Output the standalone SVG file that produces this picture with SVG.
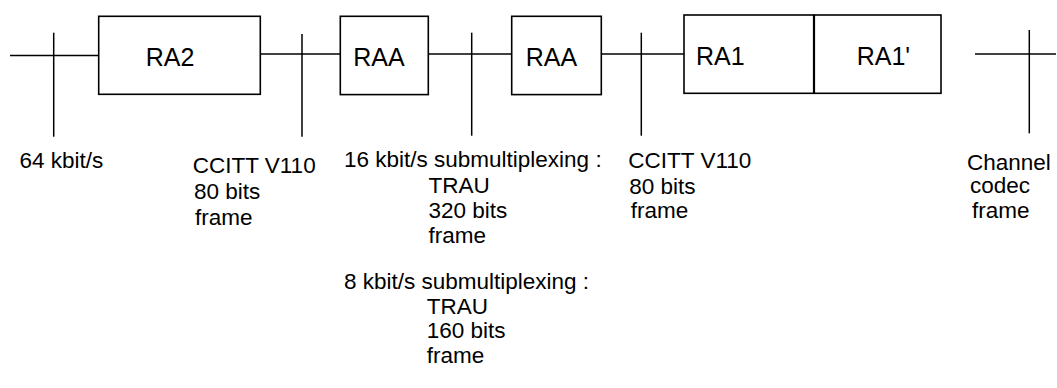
<svg xmlns="http://www.w3.org/2000/svg" width="1057" height="388" viewBox="0 0 1057 388">
<style>
.box{fill:#fff;stroke:#000;stroke-width:1.6}
.ln{stroke:#000;stroke-width:1.5;fill:none}
.bl{font-family:"Liberation Sans",Arial,sans-serif;font-size:25px;fill:#000}
.t{font-family:"Liberation Sans",Arial,sans-serif;font-size:22.5px;fill:#000}
</style>
<rect width="1057" height="388" fill="#fff"/>
<g id="connectors">
<line class="ln" x1="10" y1="55.5" x2="98.7" y2="55.5"/>
<line class="ln" x1="53.7" y1="32.7" x2="53.7" y2="136.7"/>
<line class="ln" x1="260.3" y1="54" x2="340.3" y2="54"/>
<line class="ln" x1="302" y1="34" x2="302" y2="136.7"/>
<line class="ln" x1="428.3" y1="54" x2="511.7" y2="54"/>
<line class="ln" x1="471.7" y1="32.7" x2="471.7" y2="135.7"/>
<line class="ln" x1="601.3" y1="54" x2="684" y2="54"/>
<line class="ln" x1="641.3" y1="32.7" x2="641.3" y2="135.7"/>
<line class="ln" x1="975" y1="54" x2="1056" y2="54"/>
<line class="ln" x1="1029.3" y1="30" x2="1029.3" y2="133.3"/>
</g>
<g id="ra2"><rect class="box" x="98.7" y="16.3" width="161.6" height="78"/><text class="bl" x="145.7" y="65.5">RA2</text></g>
<g id="raa1"><rect class="box" x="340.3" y="16.3" width="88" height="78.3"/><text class="bl" x="353.3" y="65.5">RAA</text></g>
<g id="raa2"><rect class="box" x="511.7" y="16.3" width="89.6" height="78.3"/><text class="bl" x="525.7" y="65.5">RAA</text></g>
<g id="ra1"><rect class="box" x="684" y="15" width="129.7" height="78.3"/><text class="bl" x="696" y="65">RA1</text></g>
<g id="ra1p"><rect class="box" x="814.3" y="15" width="126.7" height="78.3"/><text class="bl" x="856.7" y="65">RA1'</text></g>
<g id="labels">
<text class="t" x="19.5" y="168">64 kbit/s</text>
<text class="t" x="192.7" y="173">CCITT V110</text>
<text class="t" x="194" y="199">80 bits</text>
<text class="t" x="195" y="225">frame</text>
<text class="t" x="344" y="167">16 kbit/s submultiplexing :</text>
<text class="t" x="428.5" y="193">TRAU</text>
<text class="t" x="428.5" y="218">320 bits</text>
<text class="t" x="428.5" y="243">frame</text>
<text class="t" x="344" y="289">8 kbit/s submultiplexing :</text>
<text class="t" x="426.7" y="314">TRAU</text>
<text class="t" x="426.7" y="338">160 bits</text>
<text class="t" x="426.7" y="363">frame</text>
<text class="t" x="628.3" y="168">CCITT V110</text>
<text class="t" x="629.3" y="194">80 bits</text>
<text class="t" x="630.7" y="218">frame</text>
<text class="t" x="967" y="170">Channel</text>
<text class="t" x="970" y="193">codec</text>
<text class="t" x="972" y="218">frame</text>
</g>
</svg>
